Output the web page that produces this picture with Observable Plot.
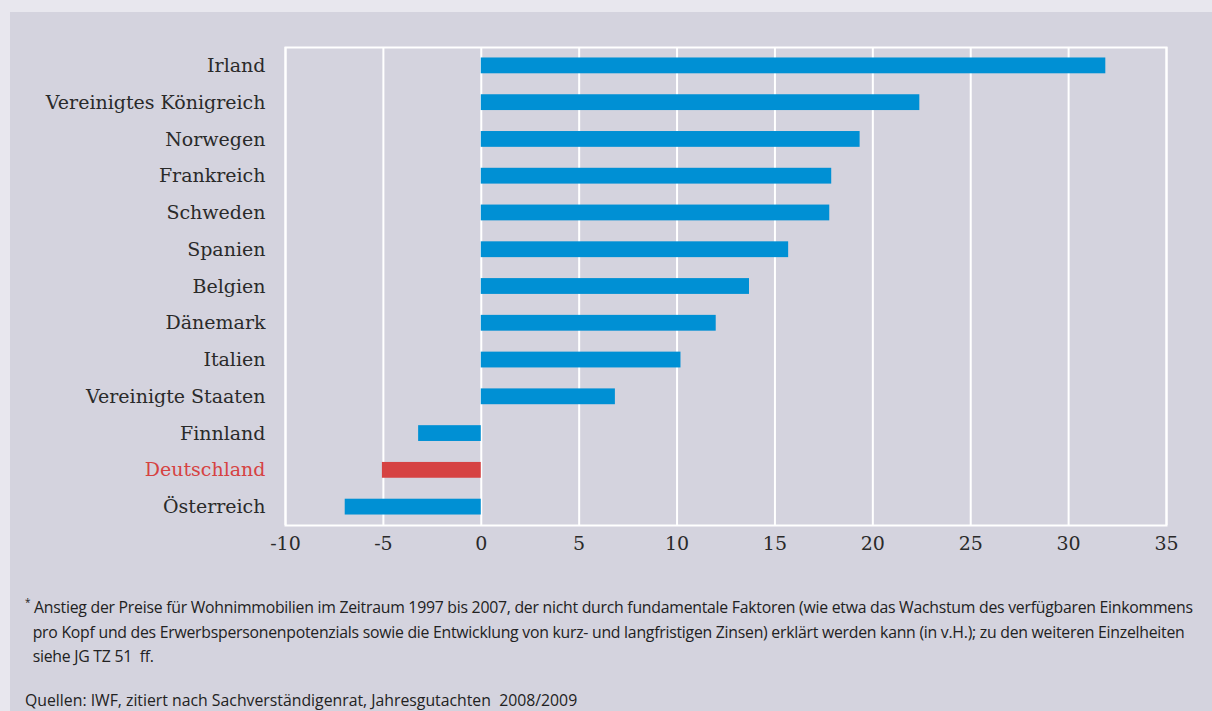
<!DOCTYPE html>
<html><head><meta charset="utf-8">
<script src="https://cdn.jsdelivr.net/npm/d3@7"></script>
<script src="https://cdn.jsdelivr.net/npm/@observablehq/plot@0.6"></script>
<style>
html,body{margin:0;padding:0;background:#e8e7ee;width:1212px;height:711px;overflow:hidden}
#panel{position:absolute;left:10px;top:12px;width:1202px;height:699px;background:#d4d3de}
#chart{position:absolute;left:0;top:0}
.note{position:absolute;left:15px;font-family:"Open Sans",sans-serif;font-size:15.8px;color:#222;letter-spacing:-0.25px;line-height:24.5px;white-space:nowrap}
.note sup{font-size:10px;vertical-align:top;line-height:14px}
</style></head><body>
<div id="panel"><div id="chart"></div>
<div class="note" style="top:583px">
<sup>*</sup> Anstieg der Preise für Wohnimmobilien im Zeitraum 1997 bis 2007, der nicht durch fundamentale Faktoren (wie etwa das Wachstum des verfügbaren Einkommens<br>
&nbsp;&nbsp;pro Kopf und des Erwerbspersonenpotenzials sowie die Entwicklung von kurz- und langfristigen Zinsen) erklärt werden kann (in v.H.); zu den weiteren Einzelheiten<br>
&nbsp;&nbsp;siehe JG TZ 51&nbsp; ff.</div>
<div class="note" style="top:679px;line-height:18px;letter-spacing:0px">Quellen: IWF, zitiert nach Sachverständigenrat, Jahresgutachten&nbsp; 2008/2009</div>
</div>
<script>
const countries = ["Irland","Vereinigtes Königreich","Norwegen","Frankreich","Schweden","Spanien","Belgien","Dänemark","Italien","Vereinigte Staaten","Finnland","Deutschland","Österreich"];
const values = [31.9, 22.4, 19.35, 17.9, 17.8, 15.7, 13.7, 12.0, 10.2, 6.85, -3.2, -5.05, -6.95];
const highlight = "Deutschland";
const xTicks = [-10,-5,0,5,10,15,20,25,30,35];

const data = countries.map((c,i)=>({country:c, value:values[i]}));
const blue = "#0090d4", red = "#d64242";

const chart = Plot.plot({
  width: 1202, height: 555,
  marginLeft: 275, marginRight: 46, marginTop: 35, marginBottom: 42,
  style: {background: "transparent", fontFamily: "'DejaVu Serif', serif", fontSize: "18px", color: "#2a2a2a"},
  x: {domain: [-10, 35], ticks: xTicks, label: null},
  y: {domain: countries, paddingInner: 0.57, paddingOuter: 0.285, round: false, label: null},
  marks: [
    Plot.gridX(xTicks, {stroke: "white", strokeOpacity: 1, strokeWidth: 2}),
    Plot.frame({stroke: "white", strokeWidth: 2}),
    Plot.barX(data, {x: "value", y: "country", fill: d => d.country === highlight ? red : blue}),
    Plot.axisX({ticks: xTicks, tickSize: 0, tickPadding: 11, fontSize: 19, label: null, tickFormat: d => String(d)}),
    Plot.axisY({tickSize: 0, tickPadding: 20, fontSize: 19, label: null})
  ]
});
document.getElementById("chart").appendChild(chart);
d3.select(chart).selectAll("[aria-label='y-axis tick label'] text")
  .filter(function(){ return this.textContent === highlight; })
  .attr("fill", red);
</script>
</body></html>
